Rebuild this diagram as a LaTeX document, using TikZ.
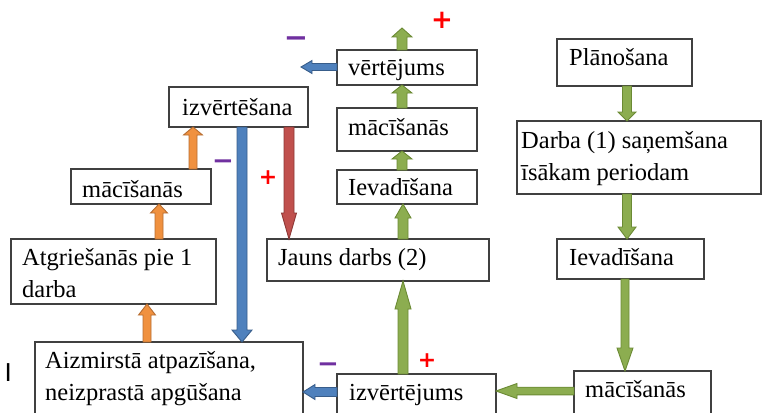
\documentclass[tikz,border=0pt]{standalone}
\usepackage{fontspec}
\setmainfont{Liberation Serif}
\newfontfamily\signfont{DejaVu Sans}
\newfontfamily\ifont{Liberation Sans}
\usetikzlibrary{calc}
\definecolor{gfill}{HTML}{8CAD50}
\definecolor{gline}{HTML}{6B8A34}
\definecolor{bfill}{HTML}{4F81BD}
\definecolor{bline}{HTML}{385D8A}
\definecolor{rfill}{HTML}{C0504D}
\definecolor{rline}{HTML}{8C3836}
\definecolor{ofill}{HTML}{F0913F}
\definecolor{oline}{HTML}{B66D31}
\definecolor{boxline}{HTML}{404040}
\definecolor{minuscol}{HTML}{7030A0}
\newcommand\barrow[6][]{%
  \filldraw[#1] let \p1=(#2), \p2=(#3),
    \n1={veclen(\x2-\x1,\y2-\y1)},
    \n2={(\x2-\x1)/\n1}, \n3={(\y2-\y1)/\n1} in
    ({\x1-(\n3)*#4},{\y1+(\n2)*#4}) --
    ({\x2-(\n2)*#6-(\n3)*#4},{\y2-(\n3)*#6+(\n2)*#4}) --
    ({\x2-(\n2)*#6-(\n3)*#5},{\y2-(\n3)*#6+(\n2)*#5}) --
    (\p2) --
    ({\x2-(\n2)*#6+(\n3)*#5},{\y2-(\n3)*#6-(\n2)*#5}) --
    ({\x2-(\n2)*#6+(\n3)*#4},{\y2-(\n3)*#6-(\n2)*#4}) --
    ({\x1+(\n3)*#4},{\y1-(\n2)*#4}) -- cycle;}
\begin{document}
\begin{tikzpicture}[x=1pt,y=-1pt,
  box/.style={draw=boxline, line width=1.3pt, fill=white, anchor=north west, inner sep=0pt, outer sep=0pt},
  txt/.style={anchor=base west, inner sep=0pt, font=\fontsize{24.5}{32}\selectfont},
  ga/.style={fill=gfill, draw=gline, line width=0.9pt, line join=miter},
  ba/.style={fill=bfill, draw=bline, line width=0.9pt},
  ra/.style={fill=rfill, draw=rline, line width=0.9pt},
  oa/.style={fill=ofill, draw=oline, line width=0.9pt},
  minus/.style={text=minuscol, anchor=base, inner sep=0pt, font=\signfont\bfseries\fontsize{#1}{#1}\selectfont},
  plus/.style={text=red, anchor=center, inner sep=0pt, font=\signfont\bfseries\fontsize{#1}{#1}\selectfont}]
\useasboundingbox (0,0) rectangle (762,412);
\clip (0,0) rectangle (762,412);
% boxes
\node[box, minimum width=140pt, minimum height=35pt] (vert) at (337,50) {};
\node[box, minimum width=140pt, minimum height=43pt] (mac2) at (337,108) {};
\node[box, minimum width=140pt, minimum height=34pt] (iev2) at (337,170) {};
\node[box, minimum width=139pt, minimum height=40pt] (izv) at (169,87) {};
\node[box, minimum width=140pt, minimum height=35pt] (mac1) at (71,169) {};
\node[box, minimum width=205pt, minimum height=65pt] (atg) at (11,239) {};
\node[box, minimum width=268pt, minimum height=83pt] (aiz) at (35,342) {};
\node[box, minimum width=222pt, minimum height=42pt] (jauns) at (267,239) {};
\node[box, minimum width=159pt, minimum height=51pt] (izv2) at (337,374) {};
\node[box, minimum width=135pt, minimum height=47pt] (plan) at (557,39) {};
\node[box, minimum width=244pt, minimum height=73pt] (darba) at (517,121) {};
\node[box, minimum width=147pt, minimum height=40pt] (iev3) at (557,239) {};
\node[box, minimum width=137pt, minimum height=54pt] (mac3) at (574,371) {};
% texts
\node[txt] (tvert) at (348,75) {vērtējums};
\node[txt] (tmac2) at (348,135) {mācīšanās};
\node[txt] (tiev2) at (348,195) {Ievadīšana};
\node[txt] (tizv) at (182,115) {izvērtēšana};
\node[txt] (tmac1) at (82,197) {mācīšanās};
\node[txt] (tatga) at (22,265) {Atgriešanās pie 1};
\node[txt] (tatgb) at (22,297) {darba};
\node[txt] (taiza) at (45,368) {Aizmirstā atpazīšana,};
\node[txt] (taizb) at (45,400) {neizprastā apgūšana};
\node[txt] (tjauns) at (278,265) {Jauns darbs (2)};
\node[txt] (tizv2) at (349,400) {izvērtējums};
\node[txt] (tplan) at (569,65) {Plānošana};
\node[txt] (tdara) at (521,148) {Darba (1) saņemšana};
\node[txt] (tdarb) at (521,180) {īsākam periodam};
\node[txt] (tiev3) at (569,265) {Ievadīšana};
\node[txt] (tmac3) at (585,397) {mācīšanās};
\node[anchor=base west, inner sep=0pt, font=\ifont\fontsize{26}{26}\selectfont] (mark) at (4.5,381) {I};
% free ends
\coordinate (gTop) at (402,28);
\coordinate (bTop) at (301,67);
% green arrows
\barrow[ga]{$(vert.north west)+(65,0)$}{gTop}{5pt}{10pt}{9pt}
\barrow[ga]{$(mac2.north west)+(65,0)$}{$(vert.south west)+(65,0)$}{5pt}{10pt}{8pt}
\barrow[ga]{$(iev2.north west)+(65,0)$}{$(mac2.south west)+(65,0)$}{5pt}{10pt}{8pt}
\barrow[ga]{$(jauns.north west)+(136,0)$}{$(iev2.south west)+(66,0)$}{5pt}{8pt}{14pt}
\barrow[ga]{$(izv2.north west)+(66,0)$}{$(jauns.south west)+(136,0)$}{5pt}{8pt}{28pt}
\barrow[ga]{$(mac3.north west)+(0,20)$}{$(izv2.north east)+(0,17)$}{3.8pt}{7.5pt}{21pt}
\barrow[ga]{$(plan.south west)+(70,0)$}{$(darba.north west)+(110,0)$}{4.5pt}{9pt}{9pt}
\barrow[ga]{$(darba.south west)+(110,0)$}{$(iev3.north west)+(70,0)$}{4.5pt}{9pt}{12pt}
\barrow[ga]{$(iev3.south west)+(68,0)$}{$(mac3.north west)+(51,0)$}{4pt}{8pt}{23pt}
% blue arrows
\barrow[ba]{$(vert.north west)+(0,17)$}{bTop}{3.5pt}{6.5pt}{11pt}
\barrow[ba]{$(izv2.north west)+(0,18)$}{$(aiz.north east)+(0,50)$}{4.5pt}{7.5pt}{12pt}
\barrow[ba]{$(izv.south west)+(73,0)$}{$(aiz.north west)+(207,0)$}{5pt}{10pt}{12pt}
% red arrow
\barrow[ra]{$(izv.south west)+(120,0)$}{$(jauns.north west)+(22,0)$}{5pt}{7.5pt}{26pt}
% orange arrows
\barrow[oa]{$(mac1.north west)+(122,0)$}{$(izv.south west)+(24,0)$}{4pt}{9.5pt}{8pt}
\barrow[oa]{$(atg.north west)+(148,0)$}{$(mac1.south west)+(88,0)$}{4pt}{8.5pt}{9pt}
\barrow[oa]{$(aiz.north west)+(112,0)$}{$(atg.south west)+(136,0)$}{4pt}{8.5pt}{11pt}
% signs
\node[minus=29] (m1) at (296,48) {−};
\node[minus=26] (m2) at (223,169) {−};
\node[minus=26] (m3) at (328,372) {−};
\node[plus=26] (p1) at (442,20) {+};
\node[plus=22] (p2) at (268,178) {+};
\node[plus=22] (p3) at (427,361) {+};
\end{tikzpicture}
\end{document}
